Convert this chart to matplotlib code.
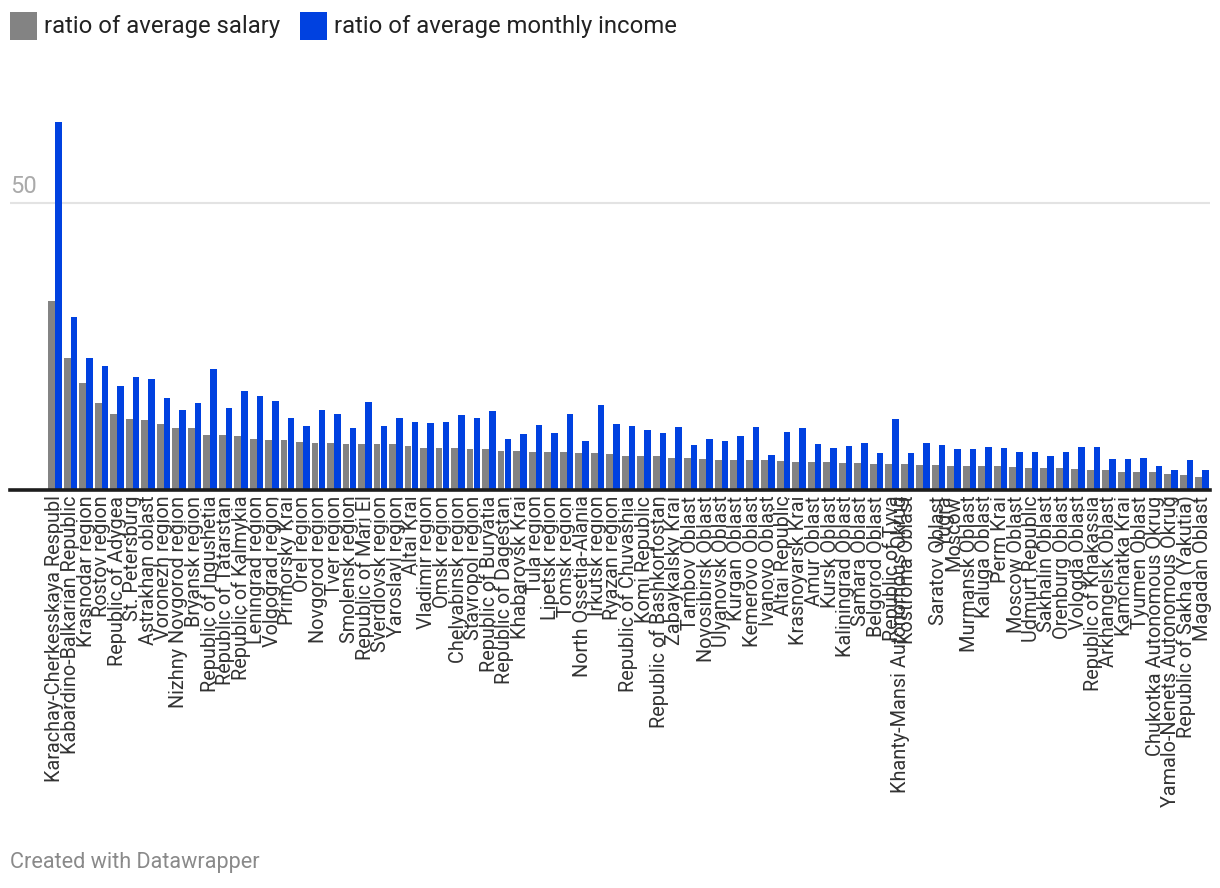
import matplotlib
matplotlib.use("Agg")
import matplotlib.pyplot as plt
from matplotlib.patches import Rectangle
import numpy as np

# Datos
regions = [
    "Karachay-Cherkesskaya Respubl", "Kabardino-Balkarian Republic", "Krasnodar region",
    "Rostov region", "Republic of Adygea", "St. Petersburg", "Astrakhan oblast",
    "Voronezh region", "Nizhny Novgorod region", "Bryansk region", "Republic of Ingushetia",
    "Republic of Tatarstan", "Republic of Kalmykia", "Leningrad region", "Volgograd region",
    "Primorsky Krai", "Orel region", "Novgorod region", "Tver region", "Smolensk region",
    "Republic of Mari El", "Sverdlovsk region", "Yaroslavl region", "Altai Krai",
    "Vladimir region", "Omsk region", "Chelyabinsk region", "Stavropol region",
    "Republic of Buryatia", "Republic of Dagestan", "Khabarovsk Krai", "Tula region",
    "Lipetsk region", "Tomsk region", "North Ossetia-Alania", "Irkutsk region",
    "Ryazan region", "Republic of Chuvashia", "Komi Republic", "Republic of Bashkortostan",
    "Zabaykalsky Krai", "Tambov Oblast", "Novosibirsk Oblast", "Ulyanovsk Oblast",
    "Kurgan Oblast", "Kemerovo Oblast", "Ivanovo Oblast", "Altai Republic",
    "Krasnoyarsk Krai", "Amur Oblast", "Kursk Oblast", "Kaliningrad Oblast",
    "Samara Oblast", "Belgorod Oblast", "Republic of Tyva", "Kostroma Oblast",
    "Khanty-Mansi Autonomous Okrug\n\nYugra", "Saratov Oblast", "Moscow", "Murmansk Oblast",
    "Kaluga Oblast", "Perm Krai", "Moscow Oblast", "Udmurt Republic", "Sakhalin Oblast",
    "Orenburg Oblast", "Vologda Oblast", "Republic of Khakassia", "Arkhangelsk Oblast",
    "Kamchatka Krai", "Tyumen Oblast", "Chukotka Autonomous Okrug",
    "Yamalo-Nenets Autonomous Okrug", "Republic of Sakha (Yakutia)", "Magadan Oblast",
]

salario = [
    32.9, 23.0, 18.6, 15.1, 13.2, 12.4, 12.2, 11.5, 10.8, 10.8,
    9.6, 9.6, 9.4, 8.9, 8.7, 8.7, 8.4, 8.2, 8.2, 8.0,
    8.0, 8.0, 8.0, 7.7, 7.3, 7.3, 7.3, 7.1, 7.1, 6.8,
    6.8, 6.6, 6.6, 6.6, 6.4, 6.4, 6.3, 5.9, 5.9, 5.9,
    5.6, 5.6, 5.4, 5.2, 5.2, 5.2, 5.2, 5.0, 4.9, 4.9,
    4.9, 4.7, 4.7, 4.5, 4.5, 4.5, 4.4, 4.4, 4.2, 4.2,
    4.2, 4.2, 4.0, 3.8, 3.8, 3.8, 3.7, 3.5, 3.5, 3.1,
    3.1, 3.1, 2.8, 2.6, 2.3,
]

ingreso = [
    64.0, 30.1, 23.0, 21.6, 18.1, 19.7, 19.3, 16.0, 13.9, 15.1,
    21.1, 14.3, 17.2, 16.4, 15.5, 12.5, 11.1, 13.9, 13.2, 10.8,
    15.3, 11.1, 12.5, 11.8, 11.7, 11.8, 13.1, 12.5, 13.7, 8.9,
    9.7, 11.3, 9.9, 13.2, 8.5, 14.8, 11.5, 11.1, 10.4, 9.9,
    11.0, 7.8, 8.9, 8.5, 9.4, 11.0, 6.1, 10.1, 10.8, 8.0,
    7.3, 7.7, 8.2, 6.4, 12.4, 6.4, 8.2, 7.8, 7.1, 7.1,
    7.5, 7.3, 6.6, 6.6, 5.9, 6.6, 7.5, 7.5, 5.4, 5.4,
    5.6, 4.2, 3.5, 5.2, 3.5,
]

series_names = ["ratio of average salary", "ratio of average monthly income"]
colores = ["#838383", "#0041e0"]

plt.rcParams['font.family'] = ['Roboto', 'DejaVu Sans']

W, H = 1220, 888
fig = plt.figure(figsize=(W / 100, H / 100), dpi=100)
fig.patch.set_facecolor("white")

# Área del gráfico (en pixeles)
y0, y50 = 490, 202.7
px_unit = (y0 - y50) / 50
ymax = 68
top_px = y0 - ymax * px_unit
ax = fig.add_axes([10 / W, 1 - y0 / H, 1200 / W, (y0 - top_px) / H])

x = np.arange(len(regions))
ancho = 0.45
ax.bar(x - ancho / 2, salario, ancho, color=colores[0], linewidth=0)
ax.bar(x + ancho / 2, ingreso, ancho, color=colores[1], linewidth=0)

ax.set_xlim((10 - 55) / 15.5, (1210 - 55) / 15.5)
ax.set_ylim(0, ymax)

# Línea de grilla y línea base
ax.axhline(50, color="#e3e3e3", lw=1.5, zorder=0)
ax.axhline(0, color="#1d1d1d", lw=2.6, zorder=3, clip_on=False)
ax.text(0, 50 + 0.9, "50", transform=ax.get_yaxis_transform(), ha="left", va="bottom",
        fontsize=17, color="#aaaaaa")

for s in ax.spines.values():
    s.set_visible(False)
ax.set_yticks([])
ax.set_xticks(x, regions, rotation=90, fontsize=14.3, color="#333333")
ax.tick_params(axis="x", length=0, pad=4)
for t in ax.get_xticklabels():
    t.set_multialignment("right")

# Leyenda
leg_items = [(10, series_names[0], colores[0]), (300, series_names[1], colores[1])]
for lx, nombre, c in leg_items:
    fig.add_artist(Rectangle((lx / W, 1 - 40 / H), 27 / W, 28 / H, transform=fig.transFigure,
                             color=c, linewidth=0))
    fig.text((lx + 34) / W, 1 - 26 / H, nombre, ha="left", va="center", fontsize=17.2, color="#222222")

fig.text(10 / W, 1 - 862 / H, "Created with Datawrapper", ha="left", va="center",
         fontsize=15.6, color="#8a8a8a")

fig.savefig("out.png", dpi=100)
